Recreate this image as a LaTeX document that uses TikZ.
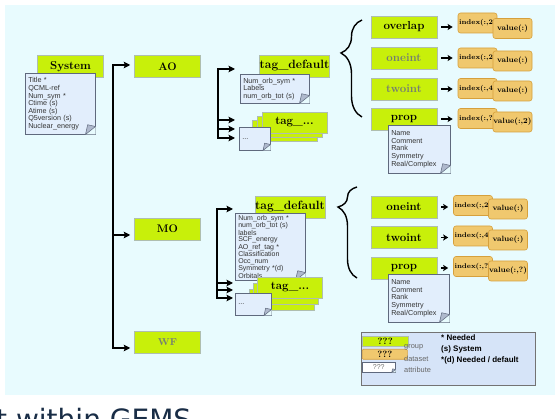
\documentclass[tikz,border=0pt]{standalone}
\usepackage{fontspec}
\setsansfont{Liberation Sans}
\newfontfamily\slidefont{DejaVu Sans}
\usetikzlibrary{shapes,arrows,arrows.meta,positioning,calc,decorations.pathreplacing}
\definecolor{groupgreen}{RGB}{200,240,10}
\definecolor{groupline}{RGB}{175,190,175}
\definecolor{dataorange}{RGB}{240,200,110}
\definecolor{dataline}{RGB}{214,160,60}
\definecolor{notefill}{RGB}{226,238,252}
\definecolor{noteline}{RGB}{95,105,125}
\definecolor{foldgray}{RGB}{175,185,205}
\definecolor{slidecyan}{RGB}{232,251,254}
\definecolor{fadedtext}{RGB}{115,125,115}
\definecolor{legendfill}{RGB}{214,228,248}
\definecolor{titleblue}{RGB}{25,45,70}
\tikzset{
    % Define standard node styles
    groupbox/.style={
        rectangle, draw=groupline, line width=0.5pt, fill=groupgreen,
        minimum width=66pt, minimum height=22pt, inner sep=0pt,
        font=\bfseries\fontsize{11.5}{12}\selectfont
    },
    stackbox/.style={
        groupbox, minimum width=65pt, minimum height=21pt
    },
    databox/.style={
        rectangle, rounded corners=2.5pt, draw=dataline, line width=0.6pt,
        fill=dataorange, minimum width=39pt, minimum height=20pt,
        inner sep=0pt, font=\bfseries\fontsize{7.6}{8}\selectfont
    },
    idxbox/.style={
        databox, text width=37pt, inner xsep=1pt, align=left,
        font=\bfseries\fontsize{6.9}{8}\selectfont
    },
    attrbox/.style={
        rectangle, draw=noteline, line width=0.5pt, fill=notefill,
        anchor=north west, align=left, inner xsep=3pt, inner ysep=2pt,
        font=\sffamily\fontsize{7.2}{7.6}\selectfont, text=black!80
    },
    fold/.style={
        draw=noteline, line width=0.5pt, fill=foldgray, line join=round
    },
    arrow/.style={
        ->, >={Stealth[length=6.5pt,width=6.5pt,inset=1.2pt]}, line width=1.6pt, color=black
    },
    shortarrow/.style={
        ->, >={Stealth[length=5pt,width=6pt,inset=1pt]}, line width=1.8pt, color=black
    },
    trunk/.style={
        <->, >={Stealth[length=6.5pt,width=6.5pt,inset=1.2pt]}, line width=1.6pt,
        color=black, line join=miter
    },
    bracket/.style={
        decorate, line width=1.4pt, color=black
    },
    keylabel/.style={
        anchor=west, inner sep=0pt,
        font=\sffamily\fontsize{7.4}{8}\selectfont, text=black!60
    }
}
% folded corner of an attribute note
\newcommand{\dogear}[2][8]{%
  \fill[slidecyan] ([xshift={-1.25*#1pt}]#2.south east) -- (#2.south east)
      -- ([yshift=#1pt]#2.south east) -- cycle;
  \filldraw[fold] ([xshift={-1.25*#1pt}]#2.south east) -- ([yshift=#1pt]#2.south east)
      -- ([xshift={-0.98*#1pt},yshift={1.22*#1pt}]#2.south east) -- cycle;
}

\begin{document}
\begin{tikzpicture}[x=1pt, y=-1pt]
\useasboundingbox (0,0) rectangle (555,419);
\clip (0,0) rectangle (555,419);
\fill[white] (0,0) rectangle (555,419);
\fill[slidecyan] (5,5) rectangle (555,395);

% top level groups
\node[groupbox] (System) at (70.5,66.5) {System};
\node[attrbox, text width=64pt, minimum height=61pt] (sysNote) at (25,73)
    {Title *\\QCML-ref\\Num\_sym *\\Ctime (s)\\Atime (s)\\Q5version (s)\\Nuclear\_energy};
\dogear{sysNote}

\node[groupbox, font=\bfseries\fontsize{11}{12}\selectfont] (AO) at (167.5,66.5) {AO};
\node[groupbox, font=\bfseries\fontsize{11}{12}\selectfont] (MO) at (167.5,229) {MO};
\node[groupbox, font=\bfseries\fontsize{10}{12}\selectfont, text=fadedtext] (WF) at (167.5,342.5) {WF};

% AO branch
\node[groupbox, font=\bfseries\fontsize{12}{13}\selectfont] (aoTag) at (294.5,66) {tag\_default};
\node[attrbox, text width=63pt, minimum height=29pt] (aoTagNote) at (240,74)
    {Num\_orb\_sym *\\Labels\\num\_orb\_tot (s)};
\dogear{aoTagNote}
\node[stackbox, font=\bfseries\fontsize{11.5}{12}\selectfont] (aoStackC) at (284.5,130.5) {tag\_...};
\node[stackbox, font=\bfseries\fontsize{11.5}{12}\selectfont] (aoStackB) at (289.5,126.5) {tag\_...};
\node[stackbox, font=\bfseries\fontsize{11.5}{12}\selectfont] (aoStack) at (294.5,122.5) {tag\_...};
\node[attrbox, text width=25pt, minimum height=23pt] (aoDots) at (239,127) {...\\[6pt]};
\dogear[6]{aoDots}

% MO branch
\node[groupbox, font=\bfseries\fontsize{12}{13}\selectfont] (moTag) at (290,207) {tag\_default};
\node[attrbox, text width=64pt, minimum height=63pt,
      font=\sffamily\fontsize{7}{6.4}\selectfont] (moTagNote) at (235,213)
    {Num\_orb\_sym *\\num\_orb\_tot (s)\\labels\\SCF\_energy\\AO\_ref\_tag *\\Classification\\Occ\_num\\Symmetry *(d)\\Orbitals};
\dogear{moTagNote}
\node[stackbox, font=\bfseries\fontsize{11.5}{12}\selectfont] (moStackC) at (282,299.5) {tag\_...};
\node[stackbox, font=\bfseries\fontsize{11.5}{12}\selectfont] (moStackB) at (286,293.5) {tag\_...};
\node[stackbox, font=\bfseries\fontsize{11.5}{12}\selectfont] (moStack) at (290,287.5) {tag\_...};
\node[attrbox, text width=30pt, minimum height=22pt] (moDots) at (235,293) {...\\[6pt]};
\dogear[6]{moDots}

% datasets of AO
\node[groupbox] (aoOverlap) at (404,27) {overlap};
\node[groupbox, text=fadedtext] (aoOneint) at (404,58) {oneint};
\node[groupbox, text=fadedtext] (aoTwoint) at (404,89) {twoint};
\node[groupbox] (aoProp) at (404,119) {prop};
\node[idxbox] (aoOverlap-idx) at (477.5,23) {index(:,2};
\node[databox] (aoOverlap-val) at (512.5,28.5) {value(:)};
\node[idxbox] (aoOneint-idx) at (477.5,58) {index(:,2};
\node[databox] (aoOneint-val) at (512.5,61) {value(:)};
\node[idxbox] (aoTwoint-idx) at (477.5,88.5) {index(:,4};
\node[databox] (aoTwoint-val) at (512.5,91) {value(:)};
\node[idxbox] (aoProp-idx) at (477.5,118.5) {index(:,?};
\node[databox] (aoProp-val) at (512.5,122) {value(:,2)};
\node[attrbox, text width=56pt, minimum height=48pt] (aoPropNote) at (388,125)
    {Name\\Comment\\Rank\\Symmetry\\Real/Complex};
\dogear{aoPropNote}

% datasets of MO
\node[groupbox] (moOneint) at (404,207) {oneint};
\node[groupbox] (moTwoint) at (404,237.5) {twoint};
\node[groupbox] (moProp) at (404,268) {prop};
\node[idxbox] (moOneint-idx) at (473,205.5) {index(:,2};
\node[databox] (moOneint-val) at (508,209) {value(:)};
\node[idxbox] (moTwoint-idx) at (473,236) {index(:,4};
\node[databox] (moTwoint-val) at (508,240) {value(:)};
\node[idxbox] (moProp-idx) at (473,266.5) {index(:,?};
\node[databox] (moProp-val) at (508,271) {value(:,?)};
\node[attrbox, text width=55pt, minimum height=48pt] (moPropNote) at (388,274)
    {Name\\Comment\\Rank\\Symmetry\\Real/Complex};
\dogear{moPropNote}

% main tree
\coordinate (rootTop) at (113,65);
\coordinate (rootMid) at (113,235);
\coordinate (rootBot) at (113,348);
\draw[trunk, shorten <=4pt, shorten >=4pt] (rootTop -| AO.west) -- (rootTop) -- (rootBot) -- (rootBot -| WF.west);
\draw[arrow, shorten >=4pt] (rootMid) -- (rootMid -| MO.west);

% tag trees
\coordinate (aoTop) at (218,69);
\coordinate (aoLow) at (218,138);
\draw[trunk, shorten <=5pt, shorten >=4pt] (aoTop -| aoTagNote.west) -- (aoTop) -- (aoLow) -- (aoLow -| aoDots.west);
\foreach \y in {120,129}
    \draw[arrow, shorten >=4pt] (218,\y) -- (218,\y -| aoDots.west);
\coordinate (moTop) at (217,209);
\coordinate (moLow) at (217,298);
\draw[trunk, shorten <=2pt, shorten >=2pt] (moTop -| moTagNote.west) -- (moTop) -- (moLow) -- (moLow -| moDots.west);
\foreach \y in {283,290}
    \draw[arrow, shorten >=2pt] (217,\y) -- (217,\y -| moDots.west);

% dataset arrows
\foreach \g in {aoOverlap,aoOneint,aoTwoint,aoProp,moOneint,moTwoint,moProp}
    \draw[shortarrow, shorten <=4pt, shorten >=5pt] (\g.east) -- (\g.east -| \g-idx.west);

% braces
\coordinate (aoBraceLow) at (362,117);
\coordinate (aoBraceTop) at (362,20);
\draw[bracket, decoration={brace, amplitude=21pt, aspect=0.66}] (aoBraceLow) -- (aoBraceTop);
\coordinate (moBraceLow) at (357,278);
\coordinate (moBraceTop) at (357,187);
\draw[bracket, decoration={brace, amplitude=19pt, aspect=0.78}] (moBraceLow) -- (moBraceTop);

% legend
\node[rectangle, draw=black!55, line width=0.6pt, fill=legendfill, anchor=north west,
      minimum width=174pt, minimum height=53pt] (legend) at (361,332) {};
\draw[line width=1.3pt, black!55] (legend.south west) -- (legend.south east) -- (legend.north east);
\node[groupbox, anchor=north west, minimum width=46pt, minimum height=10pt,
      font=\bfseries\fontsize{9}{9}\selectfont] (keyGroup) at (362,336) {???};
\node[databox, anchor=north west, rounded corners=1pt, minimum width=45pt, minimum height=10pt,
      font=\bfseries\fontsize{9}{9}\selectfont] (keyData) at (362,349) {???};
\node[attrbox, fill=white, minimum width=33pt, minimum height=10pt, inner sep=0pt, align=center,
      font=\sffamily\fontsize{7}{7}\selectfont, text=black!55] (keyAttr) at (362,362) {???};
\dogear[3]{keyAttr}
\node[keylabel] (keyGroupTxt) at (404,347) {group};
\node[keylabel] (keyDataTxt) at (404,358.5) {dataset};
\node[keylabel] (keyAttrTxt) at (404,370) {attribute};
\node[anchor=north west, align=left, inner sep=0pt,
      font=\sffamily\bfseries\fontsize{8}{11}\selectfont] (keyNotes) at (441,335)
    {* Needed\\(s) System\\*(d) Needed / default};

% slide title, cut by the frame
\node[anchor=base west, inner sep=0pt, text=titleblue,
      font=\slidefont\fontsize{28}{30}\selectfont] (slideTitle) at (-4,430) {t within GEMS};
\end{tikzpicture}
\end{document}
